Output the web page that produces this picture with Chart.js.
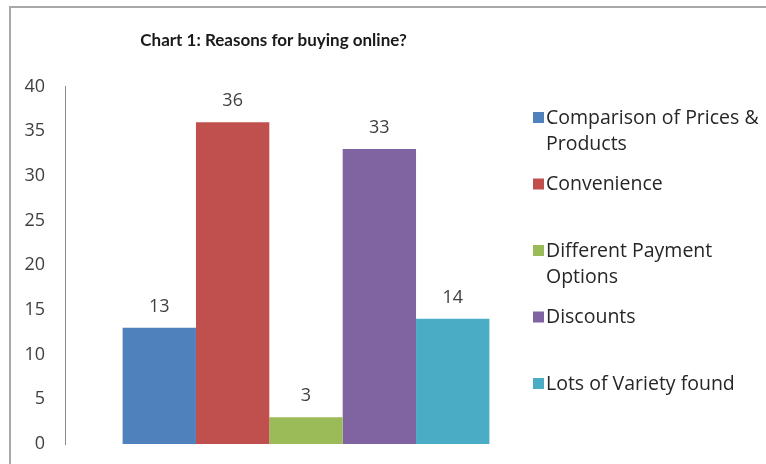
<!DOCTYPE html>
<html>
<head>
<meta charset="utf-8">
<script src="https://cdn.jsdelivr.net/npm/chart.js@4.4.1/dist/chart.umd.min.js"></script>
<style>
  html, body { margin: 0; padding: 0; background: #fff; }
  #wrap { position: relative; width: 766px; height: 464px; overflow: hidden; }
  #frame {
    position: absolute; left: 9px; top: 6px; width: 800px; height: 500px;
    border-left: 2px solid #a8a8a8; border-top: 2px solid #a8a8a8;
    pointer-events: none;
  }
</style>
</head>
<body>
<div id="wrap">
  <canvas id="reasonsChart" width="766" height="464"></canvas>
  <div id="frame"></div>
</div>
<script>
const chartTitle = 'Chart 1: Reasons for buying online?';
const reasons = [
  'Comparison of Prices &\nProducts',
  'Convenience',
  'Different Payment\nOptions',
  'Discounts',
  'Lots of Variety found'
];
const responses = [13, 36, 3, 33, 14];
const barColors = ['#4F81BD', '#C0504D', '#9BBB59', '#8064A2', '#4BACC6'];
const yMax = 40;
const yStep = 5;

const FONT = "'Open Sans', Lato, sans-serif";
const TITLE_FONT = "Lato, 'Open Sans', sans-serif";

// value above every bar
const barValues = {
  id: 'barValues',
  afterDatasetsDraw(chart) {
    const ctx = chart.ctx;
    ctx.save();
    ctx.font = '18px ' + FONT;
    ctx.fillStyle = '#404040';
    ctx.textAlign = 'center';
    ctx.textBaseline = 'middle';
    chart.data.datasets.forEach((ds, i) => {
      const bar = chart.getDatasetMeta(i).data[0];
      ctx.fillText(ds.data[0], bar.x, bar.y - 21);
    });
    ctx.restore();
  }
};

// legend on the right, long names wrapped onto two lines
const sideLegend = {
  id: 'sideLegend',
  afterDraw(chart) {
    const ctx = chart.ctx;
    const left = 533, top = 117, step = 66.5, lineH = 26;
    ctx.save();
    ctx.font = '19.5px ' + FONT;
    ctx.textBaseline = 'middle';
    chart.data.datasets.forEach((ds, i) => {
      const y = top + i * step;
      ctx.fillStyle = ds.backgroundColor;
      ctx.fillRect(left, y - 5, 11, 11);
      ctx.fillStyle = '#262626';
      reasons[i].split('\n').forEach((line, k) => {
        ctx.fillText(line, left + 13, y + 1 + k * lineH);
      });
    });
    ctx.restore();
  }
};

new Chart(document.getElementById('reasonsChart'), {
  type: 'bar',
  data: {
    labels: [''],
    datasets: reasons.map((r, i) => ({
      label: r.replace('\n', ' '),
      data: [responses[i]],
      backgroundColor: barColors[i],
      borderWidth: 0,
      barPercentage: 1,
      categoryPercentage: 0.761
    }))
  },
  options: {
    responsive: false,
    animation: false,
    layout: { padding: { left: 0, right: 219, top: 0, bottom: 20 } },
    plugins: {
      legend: { display: false },
      tooltip: { enabled: false },
      title: {
        display: true,
        text: chartTitle,
        color: '#1a1a1a',
        font: { family: TITLE_FONT, size: 17, weight: 'bold' },
        padding: { top: 30, bottom: 36 }
      }
    },
    scales: {
      x: {
        display: false
      },
      y: {
        min: 0,
        max: yMax,
        afterFit(scale) {
          scale.width = 65;
          scale.paddingTop = 0;
          scale.paddingBottom = 0;
        },
        ticks: {
          stepSize: yStep,
          padding: 20,
          color: '#404040',
          font: { family: FONT, size: 18 }
        },
        grid: { display: false, drawTicks: false },
        border: { display: true, color: '#8c8c8c', width: 1 }
      }
    }
  },
  plugins: [barValues, sideLegend]
});
</script>
</body>
</html>
